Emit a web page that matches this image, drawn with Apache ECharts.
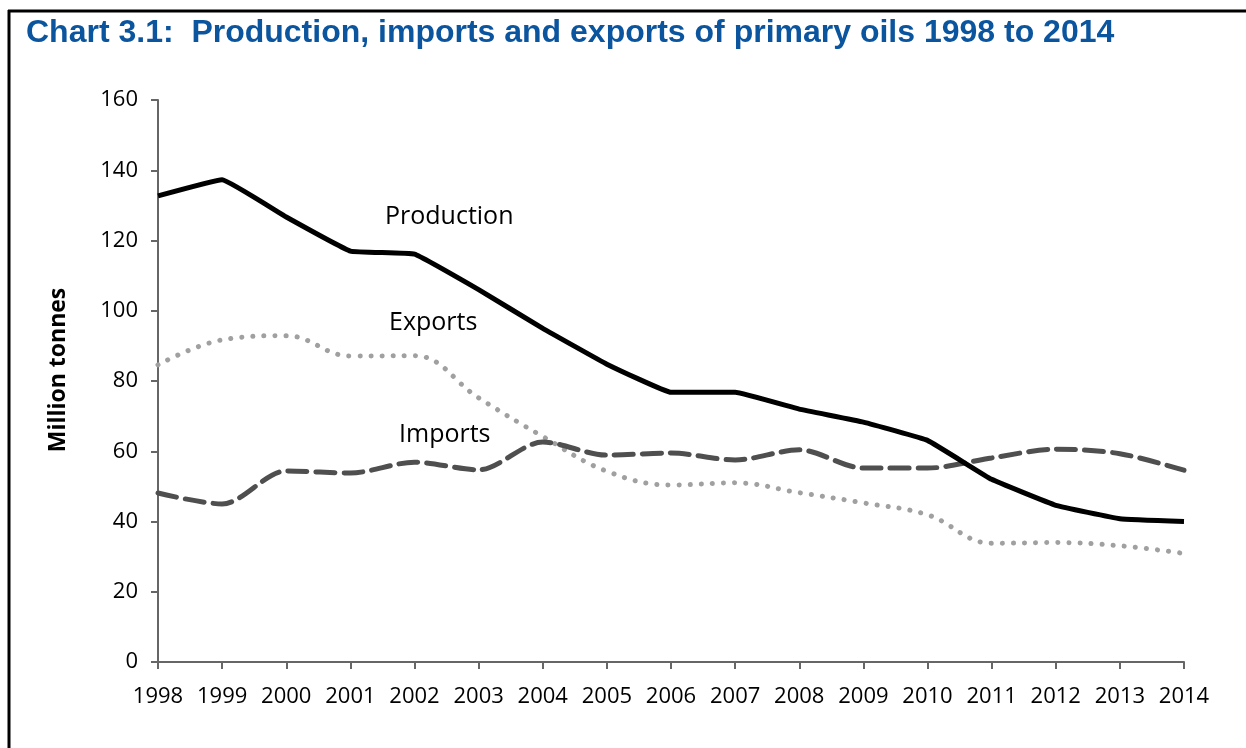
<!DOCTYPE html>
<html>
<head>
<meta charset="utf-8">
<script src="https://cdn.jsdelivr.net/npm/echarts@6/dist/echarts.min.js"></script>
<style>
html,body{margin:0;padding:0;background:#fff;}
#chart{width:1246px;height:748px;}
</style>
</head>
<body>
<div id="chart"></div>
<script>
var years = ['1998','1999','2000','2001','2002','2003','2004','2005','2006','2007','2008','2009','2010','2011','2012','2013','2014'];
var production = [132.7,137.3,126.7,117.0,116.1,106.0,95.0,84.8,76.8,76.8,72.0,68.3,63.1,52.0,44.6,40.8,40.0];
var imports    = [48.1,45.0,54.4,53.8,56.9,54.7,62.6,58.9,59.5,57.5,60.4,55.2,55.2,58.1,60.6,59.3,54.6];
var exportsData= [84.6,91.7,92.9,87.1,87.2,75.2,64.2,54.3,50.4,51.0,48.2,45.3,41.9,33.8,34.0,33.1,30.9];
var yTicks = {min:0, max:160, interval:20};
var titleText = 'Chart 3.1:  Production, imports and exports of primary oils 1998 to 2014';

var chart = echarts.init(document.getElementById('chart'), null, {renderer:'canvas'});
var tickFont = {fontFamily:'Open Sans', fontSize:22, color:'#000'};
chart.setOption({
  animation:false,
  backgroundColor:'#fff',
  title:{
    text:titleText, left:21, top:12,
    textStyle:{fontFamily:'Liberation Sans', fontWeight:'bold', fontSize:32, color:'#0b559f'}
  },
  grid:{left:158, right:62, top:100, bottom:86, containLabel:false},
  xAxis:{
    type:'category', data:years, boundaryGap:false,
    axisLine:{lineStyle:{color:'#666', width:2}},
    axisTick:{show:true, length:7, alignWithLabel:true, lineStyle:{color:'#666', width:2}},
    axisLabel:Object.assign({margin:24, interval:0}, tickFont),
    splitLine:{show:false}
  },
  yAxis:{
    type:'value', min:yTicks.min, max:yTicks.max, interval:yTicks.interval,
    name:'Million tonnes', nameLocation:'middle', nameGap:88, nameRotate:90,
    nameTextStyle:{fontFamily:'Open Sans', fontWeight:'bold', fontSize:23, color:'#000', padding:[0,0,0,22]},
    axisLine:{show:true, lineStyle:{color:'#666', width:2}},
    axisTick:{show:true, length:7, lineStyle:{color:'#666', width:2}},
    axisLabel:Object.assign({margin:20}, tickFont),
    splitLine:{show:false}
  },
  series:[
    {name:'Imports', type:'line', data:imports, smooth:0.3, symbol:'none',
     lineStyle:{color:'#4f4f4f', width:5, type:[19,9], cap:'round'}, z:2},
    {name:'Exports', type:'line', data:exportsData, smooth:0.4, symbol:'none',
     lineStyle:{color:'#a0a0a0', width:5, type:[0.1,11], cap:'round'}, z:1},
    {name:'Production', type:'line', data:production, smooth:0.08, symbol:'none',
     lineStyle:{color:'#000', width:5, cap:'butt'}, z:3}
  ],
  graphic:[
    {type:'line', shape:{x1:8, y1:11, x2:1246, y2:11}, style:{stroke:'#000', lineWidth:3}},
    {type:'line', shape:{x1:9, y1:10, x2:9, y2:748}, style:{stroke:'#000', lineWidth:3}},
    {type:'text', left:385, top:204, style:{text:'Production', font:'25px "Open Sans"', fill:'#000'}},
    {type:'text', left:389, top:310, style:{text:'Exports', font:'25px "Open Sans"', fill:'#000'}},
    {type:'text', left:399, top:422, style:{text:'Imports', font:'25px "Open Sans"', fill:'#000'}}
  ]
});
</script>
</body>
</html>
